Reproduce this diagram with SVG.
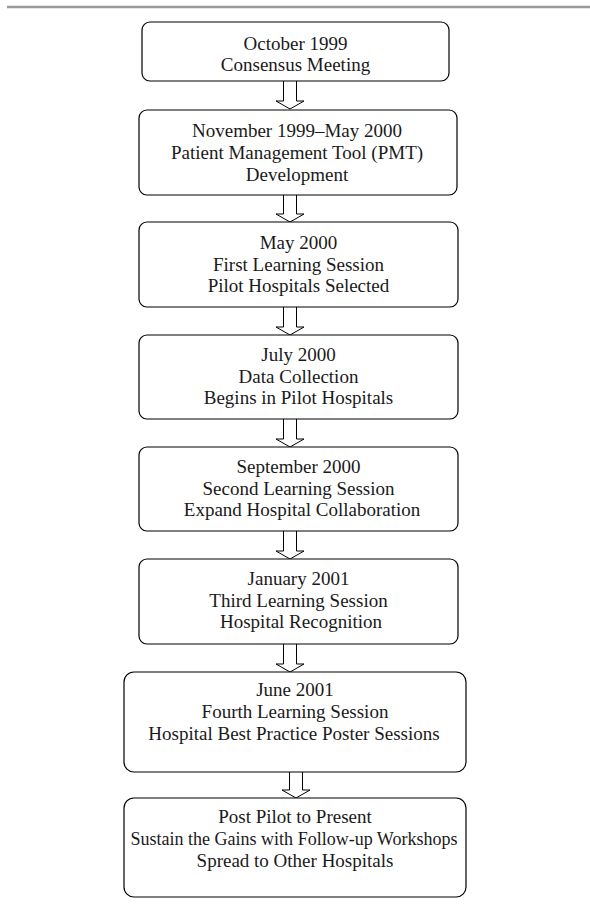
<svg xmlns="http://www.w3.org/2000/svg" width="590" height="905" viewBox="0 0 590 905">
<style>
.box{fill:#fff;stroke:#000;stroke-width:1.2}
.arr{fill:#fff;stroke:#000;stroke-width:1}
text{font-family:"Liberation Serif","Times New Roman",serif;font-size:19px;fill:#1a1a1a;text-anchor:middle}
</style>
<rect x="0" y="0" width="590" height="905" fill="#fff"/>
<line x1="7" y1="7" x2="590" y2="7" stroke="#999" stroke-width="2.5"/>
<g id="connectors">
<path class="arr" d="M283.5 81 V101 H276 L290 109 L304 101 H296.5 V81"/>
<path class="arr" d="M283.5 195 V214 H276 L290 222 L304 214 H296.5 V195"/>
<path class="arr" d="M283.5 307 V327 H276 L290 335 L304 327 H296.5 V307"/>
<path class="arr" d="M283.5 419 V439 H276 L290 447 L304 439 H296.5 V419"/>
<path class="arr" d="M283.5 531 V551 H276 L290 559 L304 551 H296.5 V531"/>
<path class="arr" d="M283.5 644 V664 H276 L290 672 L304 664 H296.5 V644"/>
<path class="arr" d="M289.5 772 V790 H282 L296 798 L310 790 H302.5 V772"/>
</g>
<g id="n1"><rect class="box" x="142" y="22" width="307" height="59" rx="8"/>
<text x="295.5" y="50">October 1999</text><text x="295.5" y="71">Consensus Meeting</text></g>
<g id="n2"><rect class="box" x="139" y="110" width="318" height="85" rx="8"/>
<text x="297" y="137">November 1999–May 2000</text><text x="297" y="159">Patient Management Tool (PMT)</text><text x="297" y="181">Development</text></g>
<g id="n3"><rect class="box" x="139" y="222" width="319" height="85" rx="8"/>
<text x="298.5" y="249">May 2000</text><text x="298.5" y="271">First Learning Session</text><text x="298.5" y="292">Pilot Hospitals Selected</text></g>
<g id="n4"><rect class="box" x="139" y="335" width="319" height="84" rx="8"/>
<text x="298.5" y="361">July 2000</text><text x="298.5" y="383">Data Collection</text><text x="298.5" y="404">Begins in Pilot Hospitals</text></g>
<g id="n5"><rect class="box" x="139" y="447" width="319" height="84" rx="8"/>
<text x="298.5" y="473">September 2000</text><text x="298.5" y="495">Second Learning Session</text><text x="302" y="516">Expand Hospital Collaboration</text></g>
<g id="n6"><rect class="box" x="139" y="559" width="319" height="85" rx="8"/>
<text x="298.5" y="585">January 2001</text><text x="298.5" y="607">Third Learning Session</text><text x="301" y="628">Hospital Recognition</text></g>
<g id="n7"><rect class="box" x="124" y="672" width="342" height="100" rx="10"/>
<text x="295" y="696">June 2001</text><text x="295" y="718">Fourth Learning Session</text><text x="294" y="740">Hospital Best Practice Poster Sessions</text></g>
<g id="n8"><rect class="box" x="124" y="798" width="342" height="99" rx="10"/>
<text x="295" y="823">Post Pilot to Present</text><text x="294" y="845" textLength="327" lengthAdjust="spacingAndGlyphs">Sustain the Gains with Follow-up Workshops</text><text x="295" y="867">Spread to Other Hospitals</text></g>
</svg>
